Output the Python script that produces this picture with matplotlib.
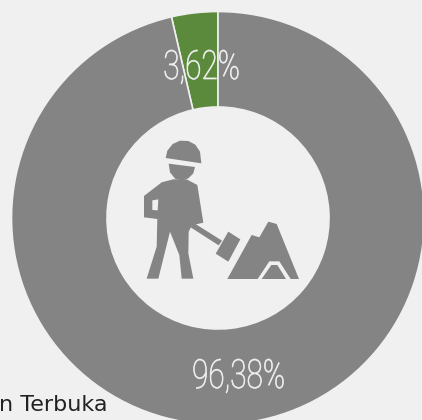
import matplotlib
matplotlib.use('Agg')
import matplotlib.pyplot as plt
import matplotlib.patheffects as pe
from matplotlib.patches import Polygon
from matplotlib.transforms import Affine2D

values = [3.62, 96.38]
labels = ['3,62%', '96,38%']
colors = ['#5b8a3c', '#848484']
bg = '#f0f0f0'

W, H = 422, 420

# icon outlines, in px of the reference (x, y from top)
def zm(pts):
    return [(120 + x / 3, H - (120 + y / 3)) for x, y in pts]

# no condensed font here, so squeeze the label sideways around its centre
class Squeeze(pe.AbstractPathEffect):
    def __init__(self, cx, sx, lw=0.5):
        super().__init__()
        self.cx = cx
        self.sx = sx
        self.lw = lw

    def draw_path(self, renderer, gc, tpath, affine, rgbFace=None):
        t = affine + Affine2D().translate(-self.cx, 0).scale(self.sx, 1).translate(self.cx, 0)
        gc0 = renderer.new_gc()
        gc0.copy_properties(gc)
        gc0.set_foreground(rgbFace)
        gc0.set_linewidth(self.lw)
        renderer.draw_path(gc0, tpath, t, rgbFace)
        gc0.restore()

body = [(125, 187), (160, 178), (200, 178), (232, 195), (250, 308), (216, 316), (206, 335),
        (205, 400), (220, 476), (185, 476), (178, 405), (150, 335), (115, 476), (80, 476),
        (110, 380), (112, 297), (72, 292), (72, 228)]
arm_hole = [(97, 241), (115, 238), (113, 271), (97, 270)]
handle = [(212, 322), (220, 308), (306, 362), (296, 376)]
blade = [(325, 335), (361, 358), (325, 425), (287, 401)]
mound = [(322, 477), (395, 345), (418, 352), (445, 305), (470, 312), (537, 477)]
chevron = [(413, 477), (448, 424), (478, 424), (512, 477)]
small_mound = [(425, 477), (454, 435), (472, 435), (498, 477)]
helmet = [(137, 114), (142, 92), (158, 72), (180, 62), (205, 63), (226, 74), (240, 95), (244, 130)]
head = [(146, 131), (225, 141), (220, 160), (205, 175), (185, 182), (165, 176), (150, 157)]

fig = plt.figure(figsize=(W / 100, H / 100), dpi=100, facecolor=bg)
ax = fig.add_axes([0, 0, 1, 1])

ax.pie(values, colors=colors, startangle=90, counterclock=True, center=(218, H - 218), radius=206.5,
       wedgeprops=dict(width=95.5, edgecolor=bg, linewidth=1.2), frame=False)
ax.set_xlim(0, W)
ax.set_ylim(0, H)
ax.set_aspect('auto')
ax.axis('off')

for pts in [body, handle, blade, helmet, head, mound]:
    ax.add_patch(Polygon(zm(pts), closed=True, fc=colors[1], ec='none', zorder=3))
ax.add_patch(Polygon(zm(arm_hole), closed=True, fc=bg, ec='none', zorder=4))
ax.add_patch(Polygon(zm(chevron), closed=True, fc=bg, ec='none', zorder=4))
ax.add_patch(Polygon(zm(small_mound), closed=True, fc=colors[1], ec='none', zorder=5))

t1 = ax.text(201.5, H - 79, labels[0], color=bg, fontsize=29, family='Roboto', weight='light',
             ha='center', va='baseline', zorder=6)
t1.set_path_effects([Squeeze(201.5, 0.74)])
t2 = ax.text(238.5, H - 388, labels[1], color=bg, fontsize=29, family='Roboto', weight='light',
             ha='center', va='baseline', zorder=6)
t2.set_path_effects([Squeeze(238.5, 0.74)])
ax.text(-1, H - 411, 'n Terbuka', color='#222222', fontsize=16, family='DejaVu Sans', ha='left', va='baseline', zorder=6)

fig.savefig('out.png', dpi=100, facecolor=bg)
